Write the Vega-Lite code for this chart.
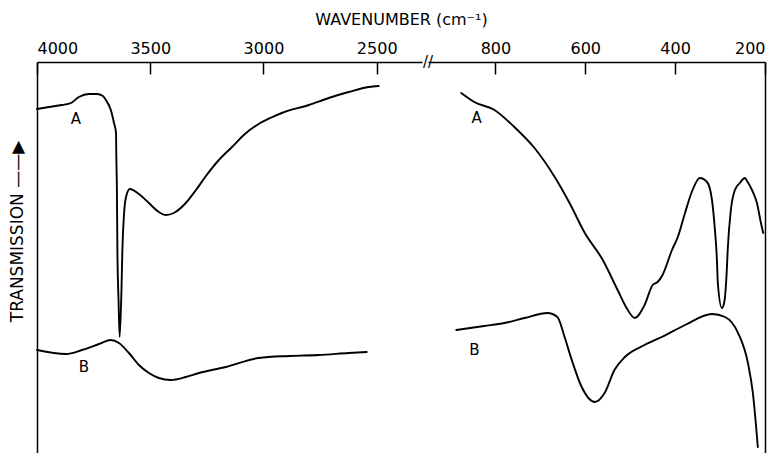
{
  "$schema": "https://vega.github.io/schema/vega-lite/v6.json",
  "background": "white",
  "padding": {"left": 8, "top": 12, "right": 5, "bottom": 0},
  "title": {"text": "WAVENUMBER (cm⁻¹)", "font": "DejaVu Sans", "fontSize": 16, "fontWeight": "normal", "color": "black", "anchor": "middle", "offset": 12, "dx": 14},
  "config": {
    "view": {"stroke": null},
    "axis": {"domainColor": "black", "domainWidth": 1.5, "tickColor": "black", "tickWidth": 1.5, "labelColor": "black", "labelFont": "DejaVu Sans", "labelFontSize": 16, "titleColor": "black", "titleFont": "DejaVu Sans", "titleFontSize": 17, "titleFontWeight": "normal", "grid": false},
    "line": {"color": "black", "strokeWidth": 1.9, "interpolate": "monotone", "strokeCap": "round"},
    "text": {"font": "DejaVu Sans", "fontSize": 15, "color": "black"}
  },
  "datasets": {
    "left": [
      {"series": "A", "wn": 4000, "t": 344}, {"series": "A", "wn": 3947, "t": 346}, {"series": "A", "wn": 3890, "t": 348}, {"series": "A", "wn": 3850, "t": 350}, {"series": "A", "wn": 3815, "t": 356}, {"series": "A", "wn": 3771, "t": 359}, {"series": "A", "wn": 3735, "t": 359}, {"series": "A", "wn": 3709, "t": 357}, {"series": "A", "wn": 3696, "t": 353}, {"series": "A", "wn": 3674, "t": 343}, {"series": "A", "wn": 3660, "t": 330}, {"series": "A", "wn": 3651, "t": 320}, {"series": "A", "wn": 3650, "t": 300}, {"series": "A", "wn": 3647, "t": 260}, {"series": "A", "wn": 3645, "t": 203}, {"series": "A", "wn": 3640, "t": 153}, {"series": "A", "wn": 3635, "t": 116}, {"series": "A", "wn": 3627, "t": 163}, {"series": "A", "wn": 3623, "t": 203}, {"series": "A", "wn": 3616, "t": 238}, {"series": "A", "wn": 3607, "t": 256}, {"series": "A", "wn": 3590, "t": 264}, {"series": "A", "wn": 3550, "t": 259}, {"series": "A", "wn": 3506, "t": 250}, {"series": "A", "wn": 3462, "t": 241}, {"series": "A", "wn": 3431, "t": 238}, {"series": "A", "wn": 3396, "t": 240}, {"series": "A", "wn": 3343, "t": 250}, {"series": "A", "wn": 3298, "t": 263}, {"series": "A", "wn": 3254, "t": 277}, {"series": "A", "wn": 3197, "t": 293}, {"series": "A", "wn": 3139, "t": 306}, {"series": "A", "wn": 3082, "t": 319}, {"series": "A", "wn": 3021, "t": 329}, {"series": "A", "wn": 2970, "t": 335}, {"series": "A", "wn": 2919, "t": 340}, {"series": "A", "wn": 2800, "t": 348}, {"series": "A", "wn": 2712, "t": 355}, {"series": "A", "wn": 2624, "t": 361}, {"series": "A", "wn": 2535, "t": 366}, {"series": "A", "wn": 2491, "t": 367},
      {"series": "B", "wn": 4000, "t": 103}, {"series": "B", "wn": 3872, "t": 99}, {"series": "B", "wn": 3801, "t": 103}, {"series": "B", "wn": 3726, "t": 109}, {"series": "B", "wn": 3674, "t": 113}, {"series": "B", "wn": 3638, "t": 110}, {"series": "B", "wn": 3594, "t": 100}, {"series": "B", "wn": 3550, "t": 88}, {"series": "B", "wn": 3506, "t": 80}, {"series": "B", "wn": 3462, "t": 75}, {"series": "B", "wn": 3409, "t": 73}, {"series": "B", "wn": 3343, "t": 76}, {"series": "B", "wn": 3285, "t": 80}, {"series": "B", "wn": 3166, "t": 86}, {"series": "B", "wn": 3021, "t": 95}, {"series": "B", "wn": 2888, "t": 97}, {"series": "B", "wn": 2756, "t": 98}, {"series": "B", "wn": 2623, "t": 100}, {"series": "B", "wn": 2544, "t": 101}
    ],
    "right": [
      {"series": "A", "wn": 876, "t": 360}, {"series": "A", "wn": 847, "t": 351}, {"series": "A", "wn": 802, "t": 343}, {"series": "A", "wn": 758, "t": 326}, {"series": "A", "wn": 713, "t": 305}, {"series": "A", "wn": 668, "t": 276}, {"series": "A", "wn": 635, "t": 250}, {"series": "A", "wn": 601, "t": 220}, {"series": "A", "wn": 561, "t": 193}, {"series": "A", "wn": 528, "t": 163}, {"series": "A", "wn": 508, "t": 145}, {"series": "A", "wn": 490, "t": 135}, {"series": "A", "wn": 468, "t": 148}, {"series": "A", "wn": 450, "t": 168}, {"series": "A", "wn": 439, "t": 171}, {"series": "A", "wn": 428, "t": 178}, {"series": "A", "wn": 407, "t": 203}, {"series": "A", "wn": 394, "t": 216}, {"series": "A", "wn": 378, "t": 240}, {"series": "A", "wn": 363, "t": 261}, {"series": "A", "wn": 345, "t": 275}, {"series": "A", "wn": 329, "t": 271}, {"series": "A", "wn": 318, "t": 253}, {"series": "A", "wn": 312, "t": 226}, {"series": "A", "wn": 307, "t": 193}, {"series": "A", "wn": 305, "t": 170}, {"series": "A", "wn": 296, "t": 145}, {"series": "A", "wn": 291, "t": 150}, {"series": "A", "wn": 285, "t": 183}, {"series": "A", "wn": 283, "t": 203}, {"series": "A", "wn": 276, "t": 243}, {"series": "A", "wn": 267, "t": 263}, {"series": "A", "wn": 256, "t": 270}, {"series": "A", "wn": 245, "t": 275}, {"series": "A", "wn": 240, "t": 272}, {"series": "A", "wn": 229, "t": 263}, {"series": "A", "wn": 218, "t": 250}, {"series": "A", "wn": 209, "t": 230}, {"series": "A", "wn": 204, "t": 220},
      {"series": "B", "wn": 887, "t": 123}, {"series": "B", "wn": 825, "t": 127}, {"series": "B", "wn": 780, "t": 130}, {"series": "B", "wn": 735, "t": 135}, {"series": "B", "wn": 684, "t": 140}, {"series": "B", "wn": 662, "t": 136}, {"series": "B", "wn": 646, "t": 116}, {"series": "B", "wn": 630, "t": 93}, {"series": "B", "wn": 608, "t": 66}, {"series": "B", "wn": 579, "t": 51}, {"series": "B", "wn": 557, "t": 60}, {"series": "B", "wn": 535, "t": 83}, {"series": "B", "wn": 512, "t": 96}, {"series": "B", "wn": 468, "t": 108}, {"series": "B", "wn": 430, "t": 116}, {"series": "B", "wn": 378, "t": 128}, {"series": "B", "wn": 318, "t": 139}, {"series": "B", "wn": 289, "t": 136}, {"series": "B", "wn": 260, "t": 120}, {"series": "B", "wn": 238, "t": 90}, {"series": "B", "wn": 227, "t": 60}, {"series": "B", "wn": 216, "t": 6}
    ],
    "leftLabels": [{"label": "A", "wn": 3828, "t": 334}, {"label": "B", "wn": 3793, "t": 86}],
    "rightLabels": [{"label": "A", "wn": 842, "t": 335}, {"label": "B", "wn": 847, "t": 103}],
    "breakMark": [{"label": "//", "wn": 950, "t": 391}]
  },
  "spacing": 0,
  "hconcat": [
    {
      "width": 385,
      "height": 391,
      "encoding": {
        "x": {"field": "wn", "type": "quantitative", "scale": {"domain": [4000, 2300], "nice": false, "zero": false},
              "axis": {"orient": "top", "title": null, "values": [4000, 3500, 3000, 2500], "format": "d", "tickSize": -12, "labelPadding": 18, "labelFlush": true}},
        "y": {"field": "t", "type": "quantitative", "scale": {"domain": [0, 391], "nice": false, "zero": false},
              "axis": {"orient": "left", "labels": false, "ticks": false, "title": "TRANSMISSION ——▶", "titleX": -20, "titleY": 169, "titleAngle": -90, "titleAlign": "center", "titleBaseline": "middle"}}
      },
      "layer": [
        {"data": {"name": "left"}, "mark": {"type": "line"}, "encoding": {"detail": {"field": "series"}}},
        {"data": {"name": "leftLabels"}, "mark": {"type": "text", "baseline": "middle", "align": "center"}, "encoding": {"text": {"field": "label"}}}
      ]
    },
    {
      "width": 337,
      "height": 391,
      "encoding": {
        "x": {"field": "wn", "type": "quantitative", "scale": {"domain": [950, 200], "nice": false, "zero": false},
              "axis": {"orient": "top", "title": null, "values": [800, 600, 400, 200], "format": "d", "tickSize": -12, "labelPadding": 18, "labelFlush": true}},
        "y": {"field": "t", "type": "quantitative", "scale": {"domain": [0, 391], "nice": false, "zero": false},
              "axis": {"orient": "right", "labels": false, "ticks": false, "title": null}}
      },
      "layer": [
        {"data": {"name": "right"}, "mark": {"type": "line"}, "encoding": {"detail": {"field": "series"}}},
        {"data": {"name": "rightLabels"}, "mark": {"type": "text", "baseline": "middle", "align": "center"}, "encoding": {"text": {"field": "label"}}},
        {"data": {"name": "breakMark"}, "mark": {"type": "text", "baseline": "middle", "align": "center", "fontSize": 15}, "encoding": {"text": {"field": "label"}}}
      ]
    }
  ]
}
